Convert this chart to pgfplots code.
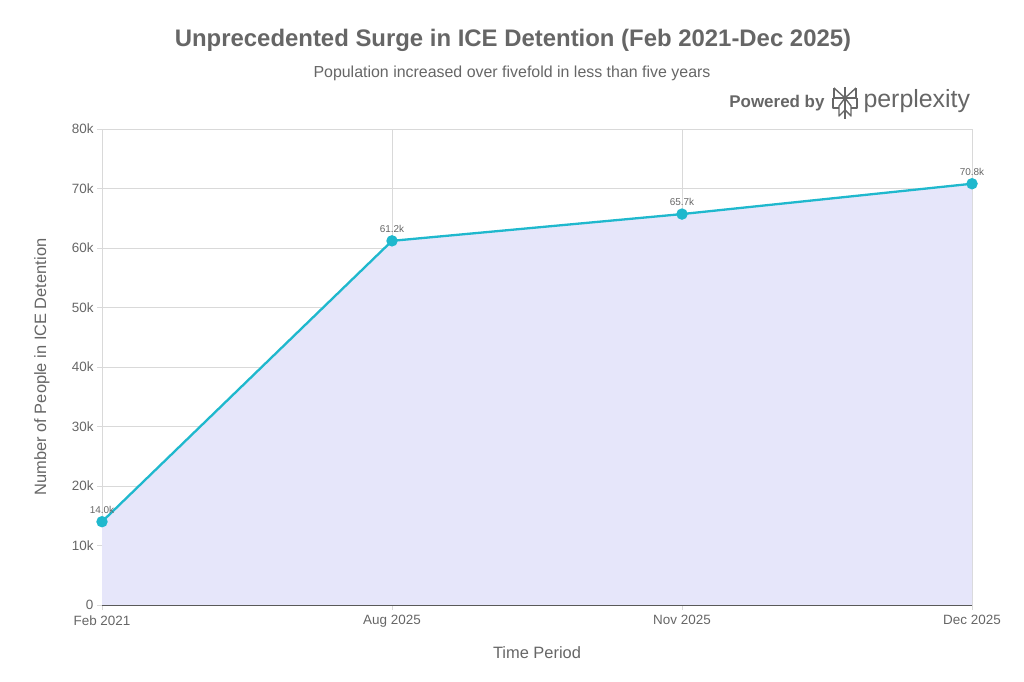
\documentclass[border=0pt]{standalone}
\usepackage{fontspec}
\setmainfont{Liberation Sans}
\usepackage{pgfplots}
\pgfplotsset{compat=1.18}
\definecolor{linecyan}{HTML}{1FB8CD}
\definecolor{areafill}{HTML}{E6E6FA}
\definecolor{txtgray}{HTML}{666666}
\definecolor{gridgray}{HTML}{D9D9D9}

\begin{document}
\begin{tikzpicture}[x=1bp,y=1bp]
\path[use as bounding box] (0,0) rectangle (1024,682);

% title block
\node[font=\fontsize{24}{28}\selectfont\bfseries, text=txtgray] at (513,642)
  {Unprecedented Surge in ICE Detention (Feb 2021-Dec 2025)};
\node[font=\fontsize{16}{19}\selectfont, text=txtgray] at (512,609)
  {Population increased over fivefold in less than five years};

% powered by logo
\node[font=\fontsize{17}{20}\selectfont\bfseries, text=txtgray, anchor=east] at (828,579) {Powered by};
\node[font=\fontsize{25}{29}\selectfont, text=txtgray, anchor=west] at (860,581) {perplexity};
\begin{scope}[draw=txtgray, line width=1.4bp, line join=round]
  \draw (845,595) -- (845,563);
  \draw (834,594) -- (845,584) -- (856,594);
  \draw (834,594) -- (834,584) -- (856,584) -- (856,594);
  \draw (833,584) -- (833,574) -- (839,574);
  \draw (857,584) -- (857,574) -- (851,574);
  \draw (845,584) -- (839,576) -- (839,566) -- (845,572) -- (851,566) -- (851,576) -- cycle;
\end{scope}

\begin{axis}[
  at={(102bp,77bp)}, anchor=south west,
  scale only axis, width=870bp, height=476bp,
  xmin=0, xmax=3, ymin=0, ymax=80000,
  clip=false,
  axis x line*=bottom, axis y line*=left,
  x axis line style={draw=black!65, line width=0.9bp, -},
  y axis line style={draw=gridgray, -},
  xtick={0,1,2,3},
  xticklabels={Feb 2021,Aug 2025,Nov 2025,Dec 2025},
  ytick={0,10000,20000,30000,40000,50000,60000,70000,80000},
  yticklabels={0,10k,20k,30k,40k,50k,60k,70k,80k},
  scaled y ticks=false,
  grid=major, grid style={gridgray, line width=0.7bp},
  tick align=outside, major tick length=5bp,
  tick style={gridgray, line width=0.7bp},
  ticklabel style={font=\fontsize{13.5}{16}\selectfont, text=txtgray},
  xticklabel style={yshift=-2bp},
  xlabel={Time Period},
  ylabel={Number of People in ICE Detention},
  label style={font=\fontsize{16.5}{19}\selectfont, text=txtgray},
  xlabel style={at={(axis description cs:0.5,-0.101)}, anchor=center},
  ylabel style={at={(axis description cs:-0.069,0.5)}, anchor=center},
]
\addplot[fill=areafill, draw=none] coordinates {
  (0,14000) (1,61200) (2,65700) (3,70800)
} \closedcycle;
\addplot[
  color=linecyan, line width=2.3bp,
  mark=*, mark size=4.5bp, mark options={fill=linecyan, draw=linecyan},
  nodes near coords, point meta=explicit symbolic,
  every node near coord/.append style={font=\fontsize{10}{12}\selectfont, text=txtgray, anchor=south, yshift=4bp},
] coordinates {
  (0,14000) [14.0k]
  (1,61200) [61.2k]
  (2,65700) [65.7k]
  (3,70800) [70.8k]
};
\end{axis}
\end{tikzpicture}
\end{document}
